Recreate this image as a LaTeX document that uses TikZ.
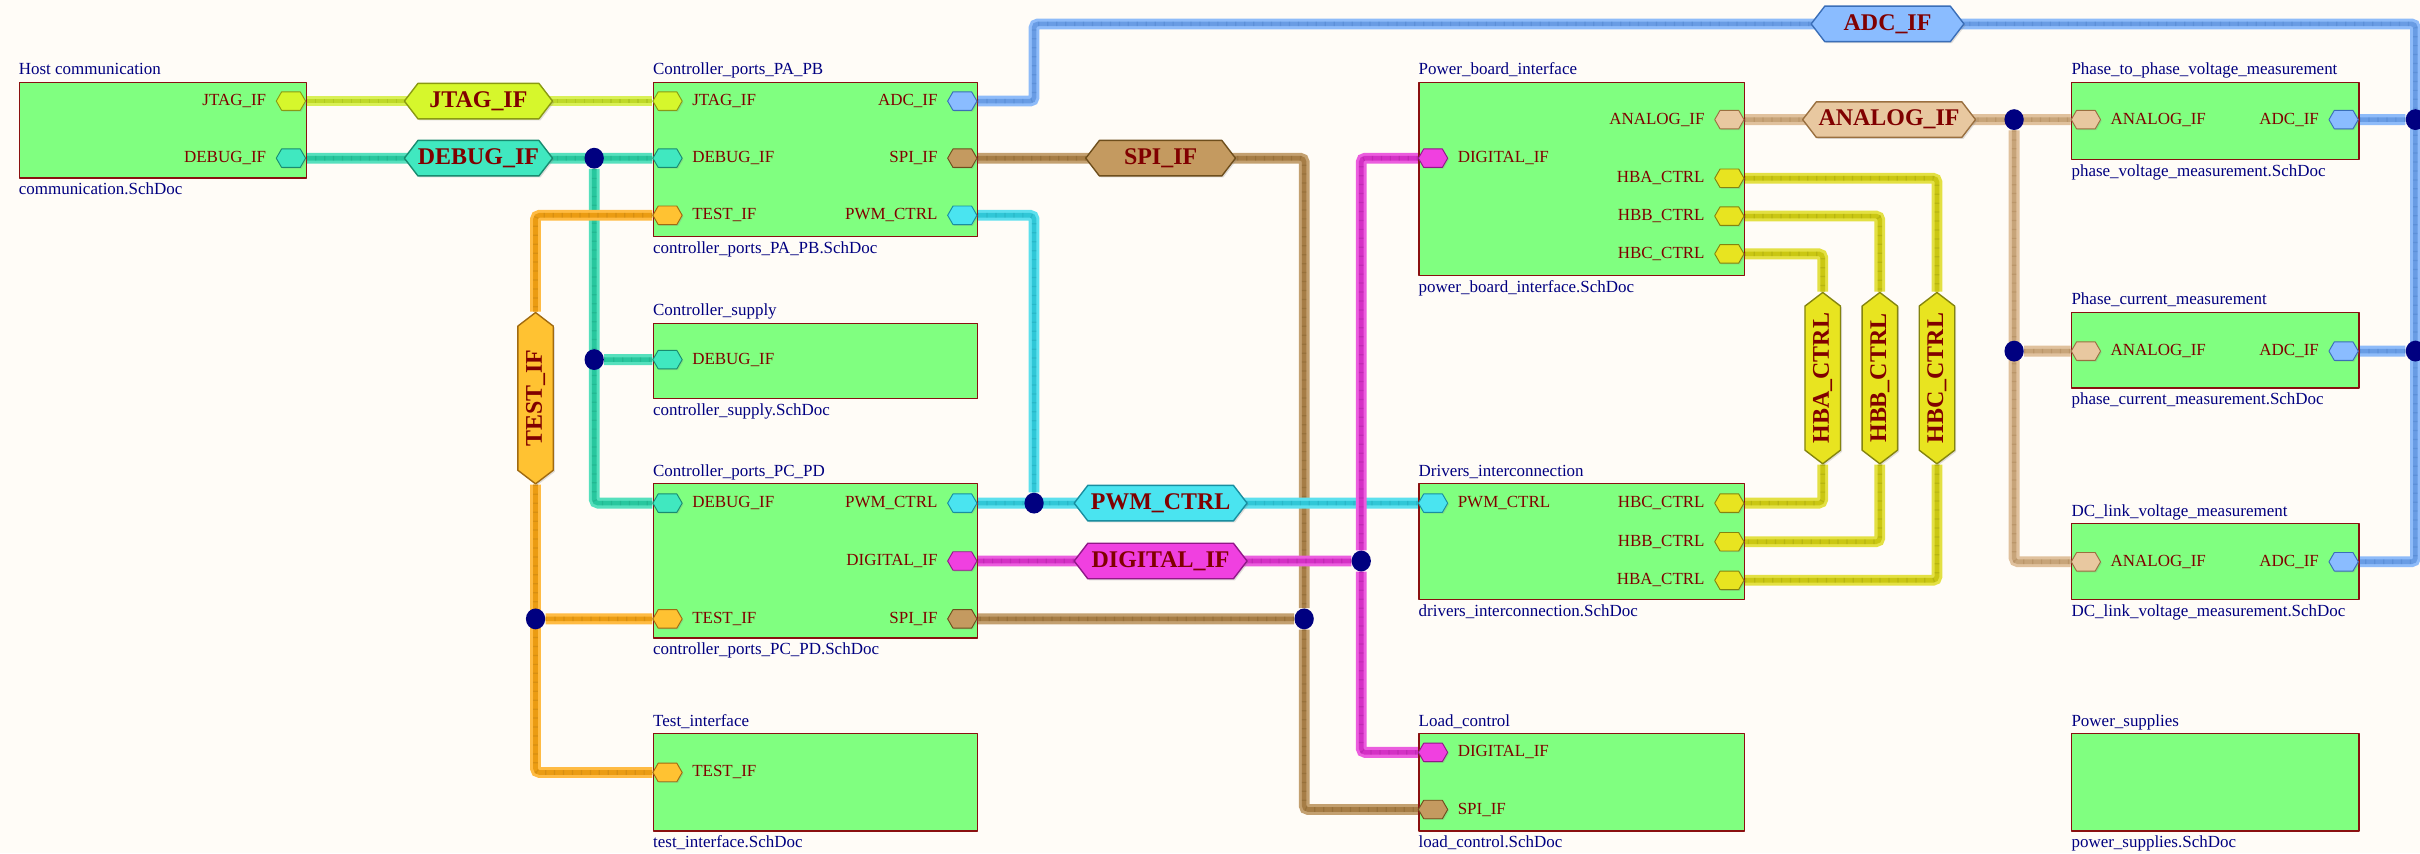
\documentclass[tikz,border=0pt]{standalone}
\usepackage{fontspec}
\setmainfont{Liberation Serif}
\usepackage{tikz}
\usetikzlibrary{positioning,calc,shapes.symbols,shapes.geometric,backgrounds,shadows}

\definecolor{sheetBg}{HTML}{FFFCF7}
\definecolor{sheetFill}{HTML}{80FF80}
\definecolor{sheetLine}{HTML}{8A1010}
\definecolor{titleBlue}{HTML}{000080}
\definecolor{portRed}{HTML}{800000}
\definecolor{dotBlue}{HTML}{000080}
% one set per net: fill of ports and labels, their outline, the wire
\definecolor{jtagFill}{HTML}{D6F72C}
\definecolor{jtagLine}{HTML}{8A9A12}
\definecolor{jtagWire}{HTML}{D0EC2C}
\definecolor{debugFill}{HTML}{40E8C0}
\definecolor{debugLine}{HTML}{188C70}
\definecolor{debugWire}{HTML}{2CD8AC}
\definecolor{testFill}{HTML}{FFC232}
\definecolor{testLine}{HTML}{A06A10}
\definecolor{testWire}{HTML}{FFAA14}
\definecolor{adcFill}{HTML}{8ABCFF}
\definecolor{adcLine}{HTML}{3A6EB8}
\definecolor{adcWire}{HTML}{72AAF8}
\definecolor{spiFill}{HTML}{C49A60}
\definecolor{spiLine}{HTML}{6E4E1C}
\definecolor{spiWire}{HTML}{B4884C}
\definecolor{pwmFill}{HTML}{4AE4F0}
\definecolor{pwmLine}{HTML}{188EA0}
\definecolor{pwmWire}{HTML}{34D8EA}
\definecolor{digFill}{HTML}{F040E0}
\definecolor{digLine}{HTML}{901888}
\definecolor{digWire}{HTML}{E634D6}
\definecolor{anaFill}{HTML}{E8C8A0}
\definecolor{anaLine}{HTML}{9A7040}
\definecolor{anaWire}{HTML}{D8B284}
\definecolor{hbFill}{HTML}{E8E420}
\definecolor{hbLine}{HTML}{84840E}
\definecolor{hbWire}{HTML}{DCD814}

\tikzset{
  schem/.style={
    font=\fontsize{11}{13}\selectfont,
    line cap=round, line join=round,
  },
  sheet/.style={
    draw=sheetLine, line width=0.8pt, fill=sheetFill,
    inner sep=0pt, anchor=north west,
  },
  sheetTitle/.style={text=titleBlue, anchor=base west, inner sep=0pt},
  sheetFile/.style={text=titleBlue, anchor=base west, inner sep=0pt},
  port/.style={
    signal, signal to=east and west, signal pointer angle=120,
    draw=#1Line, line width=0.6pt, fill=#1Fill,
    minimum width=19pt, minimum height=12pt, inner sep=0pt,
    drop shadow={shadow xshift=0.8pt, shadow yshift=-0.8pt, opacity=0.25},
  },
  portText/.style={text=portRed, inner sep=0pt},
  netLabel/.style={
    signal, signal to=east and west, signal pointer angle=105,
    draw=#1Line, line width=0.9pt, fill=#1Fill,
    minimum height=23pt, inner sep=0pt, text=portRed,
    font=\fontsize{15.5}{18}\selectfont\bfseries,
    drop shadow={shadow xshift=1pt, shadow yshift=-1pt, opacity=0.25},
  },
  wire/.style={
    draw=#1Wire!92!black, line width=3pt, rounded corners=2.5pt,
    preaction={draw=#1Wire!80!white, line width=7pt},
    postaction={draw=#1Line, line width=3pt, draw opacity=0.25,
                dash pattern=on 0.8pt off 5pt},
  },
  junction/.style={ellipse, fill=dotBlue, minimum width=12.5pt,
    minimum height=13.5pt, inner sep=0pt},
}

\begin{document}
\begin{tikzpicture}[schem, x=1pt, y=-1pt]

\begin{pgfonlayer}{background}
  \fill[sheetBg] (0,0) rectangle (1568,553);
\end{pgfonlayer}
\useasboundingbox (0,0) rectangle (1568,553);

% ============================================================
% Sheet symbols, four columns
% ============================================================
\def\colA{12}
\def\colB{423}
\def\colC{919}
\def\colD{1342}

\node[sheet, minimum width=186pt, minimum height=62pt]  (host) at (\colA,53)  {};
\node[sheet, minimum width=210pt, minimum height=100pt] (pab)  at (\colB,53)  {};
\node[sheet, minimum width=210pt, minimum height=49pt]  (sup)  at (\colB,209) {};
\node[sheet, minimum width=210pt, minimum height=100pt] (pcd)  at (\colB,313) {};
\node[sheet, minimum width=210pt, minimum height=63pt]  (ti)   at (\colB,475) {};
\node[sheet, minimum width=211pt, minimum height=125pt] (pb)   at (\colC,53)  {};
\node[sheet, minimum width=211pt, minimum height=75pt]  (drv)  at (\colC,313) {};
\node[sheet, minimum width=211pt, minimum height=63pt]  (lc)   at (\colC,475) {};
\node[sheet, minimum width=186pt, minimum height=50pt]  (pv)   at (\colD,53)  {};
\node[sheet, minimum width=186pt, minimum height=49pt]  (pc)   at (\colD,202) {};
\node[sheet, minimum width=186pt, minimum height=49pt]  (dc)   at (\colD,339) {};
\node[sheet, minimum width=186pt, minimum height=63pt]  (ps)   at (\colD,475) {};

% sheet names above, file names below
\node[sheetTitle] (hostTitle) at ($(host.north west)+(0,-4.5)$) {Host communication};
\node[sheetFile]  (hostFile)  at ($(host.south west)+(0,10.5)$) {communication.SchDoc};
\node[sheetTitle] (pabTitle)  at ($(pab.north west)+(0,-4.5)$)  {Controller\_ports\_PA\_PB};
\node[sheetFile]  (pabFile)   at ($(pab.south west)+(0,10.5)$)  {controller\_ports\_PA\_PB.SchDoc};
\node[sheetTitle] (supTitle)  at ($(sup.north west)+(0,-4.5)$)  {Controller\_supply};
\node[sheetFile]  (supFile)   at ($(sup.south west)+(0,10.5)$)  {controller\_supply.SchDoc};
\node[sheetTitle] (pcdTitle)  at ($(pcd.north west)+(0,-4.5)$)  {Controller\_ports\_PC\_PD};
\node[sheetFile]  (pcdFile)   at ($(pcd.south west)+(0,10.5)$)  {controller\_ports\_PC\_PD.SchDoc};
\node[sheetTitle] (tiTitle)   at ($(ti.north west)+(0,-4.5)$)   {Test\_interface};
\node[sheetFile]  (tiFile)    at ($(ti.south west)+(0,10.5)$)   {test\_interface.SchDoc};
\node[sheetTitle] (pbTitle)   at ($(pb.north west)+(0,-4.5)$)   {Power\_board\_interface};
\node[sheetFile]  (pbFile)    at ($(pb.south west)+(0,10.5)$)   {power\_board\_interface.SchDoc};
\node[sheetTitle] (drvTitle)  at ($(drv.north west)+(0,-4.5)$)  {Drivers\_interconnection};
\node[sheetFile]  (drvFile)   at ($(drv.south west)+(0,10.5)$)  {drivers\_interconnection.SchDoc};
\node[sheetTitle] (lcTitle)   at ($(lc.north west)+(0,-4.5)$)   {Load\_control};
\node[sheetFile]  (lcFile)    at ($(lc.south west)+(0,10.5)$)   {load\_control.SchDoc};
\node[sheetTitle] (pvTitle)   at ($(pv.north west)+(0,-4.5)$)   {Phase\_to\_phase\_voltage\_measurement};
\node[sheetFile]  (pvFile)    at ($(pv.south west)+(0,10.5)$)   {phase\_voltage\_measurement.SchDoc};
\node[sheetTitle] (pcTitle)   at ($(pc.north west)+(0,-4.5)$)   {Phase\_current\_measurement};
\node[sheetFile]  (pcFile)    at ($(pc.south west)+(0,10.5)$)   {phase\_current\_measurement.SchDoc};
\node[sheetTitle] (dcTitle)   at ($(dc.north west)+(0,-4.5)$)   {DC\_link\_voltage\_measurement};
\node[sheetFile]  (dcFile)    at ($(dc.south west)+(0,10.5)$)   {DC\_link\_voltage\_measurement.SchDoc};
\node[sheetTitle] (psTitle)   at ($(ps.north west)+(0,-4.5)$)   {Power\_supplies};
\node[sheetFile]  (psFile)    at ($(ps.south west)+(0,10.5)$)   {power\_supplies.SchDoc};

% ============================================================
% Sheet entries (ports), flush with the sheet edges
% ============================================================
\node[port=jtag]  (hostJtag)  at (188.5,65.5)  {};
\node[port=debug] (hostDebug) at (188.5,102.5) {};
\node[portText, left=6pt of hostJtag]  (hostJtagTxt)  {JTAG\_IF};
\node[portText, left=6pt of hostDebug] (hostDebugTxt) {DEBUG\_IF};

\node[port=jtag]  (pabJtag)  at (432.5,65.5)  {};
\node[port=debug] (pabDebug) at (432.5,102.5) {};
\node[port=test]  (pabTest)  at (432.5,139.5) {};
\node[port=adc]   (pabAdc)   at (623.5,65.5)  {};
\node[port=spi]   (pabSpi)   at (623.5,102.5) {};
\node[port=pwm]   (pabPwm)   at (623.5,139.5) {};
\node[portText, right=6pt of pabJtag]  (pabJtagTxt)  {JTAG\_IF};
\node[portText, right=6pt of pabDebug] (pabDebugTxt) {DEBUG\_IF};
\node[portText, right=6pt of pabTest]  (pabTestTxt)  {TEST\_IF};
\node[portText, left=6pt of pabAdc]    (pabAdcTxt)   {ADC\_IF};
\node[portText, left=6pt of pabSpi]    (pabSpiTxt)   {SPI\_IF};
\node[portText, left=6pt of pabPwm]    (pabPwmTxt)   {PWM\_CTRL};

\node[port=debug] (supDebug) at (432.5,233) {};
\node[portText, right=6pt of supDebug] (supDebugTxt) {DEBUG\_IF};

\node[port=debug] (pcdDebug) at (432.5,326)   {};
\node[port=test]  (pcdTest)  at (432.5,401)   {};
\node[port=pwm]   (pcdPwm)   at (623.5,326)   {};
\node[port=dig]   (pcdDig)   at (623.5,363.5) {};
\node[port=spi]   (pcdSpi)   at (623.5,401)   {};
\node[portText, right=6pt of pcdDebug] (pcdDebugTxt) {DEBUG\_IF};
\node[portText, right=6pt of pcdTest]  (pcdTestTxt)  {TEST\_IF};
\node[portText, left=6pt of pcdPwm]    (pcdPwmTxt)   {PWM\_CTRL};
\node[portText, left=6pt of pcdDig]    (pcdDigTxt)   {DIGITAL\_IF};
\node[portText, left=6pt of pcdSpi]    (pcdSpiTxt)   {SPI\_IF};

\node[port=test] (tiTest) at (432.5,500.5) {};
\node[portText, right=6pt of tiTest] (tiTestTxt) {TEST\_IF};

\node[port=ana] (pbAna) at (1120.5,77.5)  {};
\node[port=dig] (pbDig) at (928.5,102.5)  {};
\node[port=hb]  (pbHba) at (1120.5,115.5) {};
\node[port=hb]  (pbHbb) at (1120.5,140)   {};
\node[port=hb]  (pbHbc) at (1120.5,164.5) {};
\node[portText, left=6pt of pbAna]  (pbAnaTxt) {ANALOG\_IF};
\node[portText, right=6pt of pbDig] (pbDigTxt) {DIGITAL\_IF};
\node[portText, left=6pt of pbHba]  (pbHbaTxt) {HBA\_CTRL};
\node[portText, left=6pt of pbHbb]  (pbHbbTxt) {HBB\_CTRL};
\node[portText, left=6pt of pbHbc]  (pbHbcTxt) {HBC\_CTRL};

\node[port=pwm] (drvPwm) at (928.5,326)  {};
\node[port=hb]  (drvHbc) at (1120.5,326) {};
\node[port=hb]  (drvHbb) at (1120.5,351) {};
\node[port=hb]  (drvHba) at (1120.5,376) {};
\node[portText, right=6pt of drvPwm] (drvPwmTxt) {PWM\_CTRL};
\node[portText, left=6pt of drvHbc]  (drvHbcTxt) {HBC\_CTRL};
\node[portText, left=6pt of drvHbb]  (drvHbbTxt) {HBB\_CTRL};
\node[portText, left=6pt of drvHba]  (drvHbaTxt) {HBA\_CTRL};

\node[port=dig] (lcDig) at (928.5,487.5) {};
\node[port=spi] (lcSpi) at (928.5,524.5) {};
\node[portText, right=6pt of lcDig] (lcDigTxt) {DIGITAL\_IF};
\node[portText, right=6pt of lcSpi] (lcSpiTxt) {SPI\_IF};

\node[port=ana] (pvAna) at (1351.5,77.5)  {};
\node[port=adc] (pvAdc) at (1518.5,77.5)  {};
\node[port=ana] (pcAna) at (1351.5,227.5) {};
\node[port=adc] (pcAdc) at (1518.5,227.5) {};
\node[port=ana] (dcAna) at (1351.5,364)   {};
\node[port=adc] (dcAdc) at (1518.5,364)   {};
\node[portText, right=6pt of pvAna] (pvAnaTxt) {ANALOG\_IF};
\node[portText, left=6pt of pvAdc]  (pvAdcTxt) {ADC\_IF};
\node[portText, right=6pt of pcAna] (pcAnaTxt) {ANALOG\_IF};
\node[portText, left=6pt of pcAdc]  (pcAdcTxt) {ADC\_IF};
\node[portText, right=6pt of dcAna] (dcAnaTxt) {ANALOG\_IF};
\node[portText, left=6pt of dcAdc]  (dcAdcTxt) {ADC\_IF};

% ============================================================
% Net labels and junctions
% ============================================================
\node[netLabel=jtag,  minimum width=96pt]  (jtagLbl)  at (310,65.5)  {JTAG\_IF};
\node[netLabel=debug, minimum width=96pt]  (debugLbl) at (310,102.5) {DEBUG\_IF};
\node[netLabel=spi,   minimum width=97pt]  (spiLbl)   at (752,102.5) {SPI\_IF};
\node[netLabel=pwm,   minimum width=112pt] (pwmLbl)   at (752,326)   {PWM\_CTRL};
\node[netLabel=dig,   minimum width=112pt] (digLbl)   at (752,363.5) {DIGITAL\_IF};
\node[netLabel=adc,   minimum width=99pt]  (adcLbl)   at (1223,15.5) {ADC\_IF};
\node[netLabel=ana,   minimum width=112pt] (anaLbl)   at (1224,77.5) {ANALOG\_IF};
\node[netLabel=test,  minimum width=111pt, rotate=90] (testLbl) at (347,258)  {TEST\_IF};
\node[netLabel=hb,    minimum width=111pt, rotate=90] (hbaLbl)  at (1181,245) {HBA\_CTRL};
\node[netLabel=hb,    minimum width=111pt, rotate=90] (hbbLbl)  at (1218,245) {HBB\_CTRL};
\node[netLabel=hb,    minimum width=111pt, rotate=90] (hbcLbl)  at (1255,245) {HBC\_CTRL};

\node[junction] (dbgJ1) at (385,102.5)  {};
\node[junction] (dbgJ2) at (385,233)    {};
\node[junction] (testJ) at (347,401)    {};
\node[junction] (pwmJ)  at (670,326)    {};
\node[junction] (spiJ)  at (845,401)    {};
\node[junction] (digJ)  at (882,363.5)  {};
\node[junction] (anaJ1) at (1305,77.5)  {};
\node[junction] (anaJ2) at (1305,227.5) {};
\node[junction] (adcJ1) at (1565,77.5)  {};
\node[junction] (adcJ2) at (1565,227.5) {};

\coordinate (adcBendA) at (670,15.5);
\coordinate (adcBendB) at (1565,15.5);

% ============================================================
% Wires, kept under every symbol
% ============================================================
\begin{pgfonlayer}{background}
\draw[wire=jtag] (hostJtag.east) -- (pabJtag.west);
\draw[wire=debug] (hostDebug.east) -- (pabDebug.west)
  (dbgJ1) |- (pcdDebug.west)
  (dbgJ2) -- (supDebug.west);
\draw[wire=test] (pabTest.west) -| (testLbl) |- (tiTest.west)
  (testJ) -- (pcdTest.west);
\draw[wire=adc] (pabAdc.east) -| (adcBendA) -- (adcBendB) |- (dcAdc.east)
  (adcJ1) -- (pvAdc.east)
  (adcJ2) -- (pcAdc.east);
\draw[wire=spi] (pabSpi.east) -| (spiJ) |- (lcSpi.west)
  (spiJ) -- (pcdSpi.east);
\draw[wire=pwm] (pabPwm.east) -| (pwmJ)
  (pcdPwm.east) -- (drvPwm.west);
\draw[wire=dig] (pbDig.west) -| (digJ) |- (lcDig.west)
  (digJ) -- (pcdDig.east);
\draw[wire=ana] (pbAna.east) -- (pvAna.west)
  (anaJ1) |- (dcAna.west)
  (anaJ2) -- (pcAna.west);
\draw[wire=hb] (pbHba.east) -| (hbcLbl) |- (drvHba.east);
\draw[wire=hb] (pbHbb.east) -| (hbbLbl) |- (drvHbb.east);
\draw[wire=hb] (pbHbc.east) -| (hbaLbl) |- (drvHbc.east);
\end{pgfonlayer}

\end{tikzpicture}
\end{document}
